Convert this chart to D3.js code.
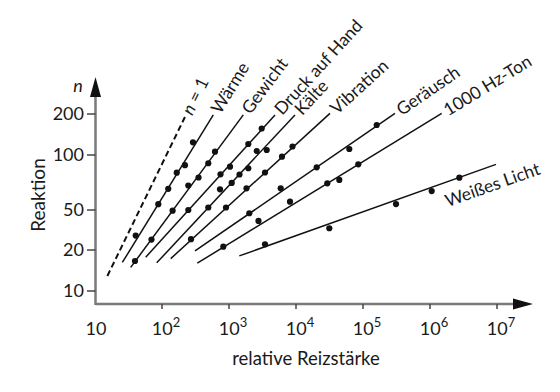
<!DOCTYPE html>
<html>
<head>
<meta charset="utf-8">
<script src="https://cdn.jsdelivr.net/npm/d3@7"></script>
<style>
  body { margin: 0; background: #fff; }
  text { font-family: Lato, "Open Sans", sans-serif; fill: #1a1a1a; }
</style>
</head>
<body>
<div id="container"></div>
<script>
// Stevens power law: Reaktion vs. relative Reizstaerke (log-log)
const series = ["n = 1", "Wärme", "Gewicht", "Druck auf Hand", "Kälte",
                "Vibration", "Geräusch", "1000 Hz-Ton", "Weißes Licht"];

// fitted line ends [stimulus, response]
const lineStart = [[15.3, 12.9], [25.6, 16.2], [34.1, 14.9], [57.1, 17.7], [83.4, 16.1],
                   [135, 17.3], [311, 19.7], [336, 16.0], [1425, 18.1]];
const lineEnd = [[220, 190], [583, 197], [1634, 197], [4860, 197], [9660, 197],
                 [32170, 202], [300300, 202], [1494000, 202], [9660000, 88.9]];

// measured points
const pointStim = [
  [],
  [40.5, 88.1, 124, 166, 220, 290],
  [39.5, 69.7, 144, 247, 351, 491, 618],
  [247, 747, 1035, 1942, 3076],
  [491, 734, 1097, 1435, 1942, 2591, 3654],
  [271, 902, 1824, 3446, 6180, 8867],
  [2009, 5909, 20370, 62450, 160200],
  [822, 2756, 8136, 29330, 44290, 85100],
  [3446, 31410, 310900, 1060000, 2740000]
];
const pointResp = [
  [],
  [27.8, 53.8, 65.3, 80.0, 88.0, 124],
  [16.6, 25.4, 49.2, 68.1, 75.3, 90.1, 105.7],
  [50, 78.4, 86.3, 120.4, 156.5],
  [51.6, 64.9, 70.3, 78.2, 84.6, 107, 108.8],
  [25.6, 51.6, 65.7, 80.2, 97.9, 115.5],
  [46.4, 65.7, 85.6, 110.7, 166],
  [21.6, 38.9, 55.5, 70.0, 73.0, 88.9],
  [22.8, 32.9, 53.9, 63.5, 75.1]
];

const xTicks = [10, 1e2, 1e3, 1e4, 1e5, 1e6, 1e7];
const yTicks = [10, 20, 50, 100, 200];

const width = 560, height = 392;
const x0 = 95.5, y0 = 304;

const x = d3.scaleLog().domain([10, 1e7]).range([95, 497]);
// the drawing's response axis is not evenly spaced, so piecewise log
const y = d3.scaleLog().domain(yTicks).range([291, 250, 210, 155, 114]);

const svg = d3.select("#container").append("svg")
  .attr("width", width).attr("height", height);

const axisCol = "#7a7a7a";

// axes lines + arrows
svg.append("line").attr("x1", x0).attr("x2", 516).attr("y1", y0).attr("y2", y0)
  .attr("stroke", axisCol).attr("stroke-width", 2.5);
svg.append("line").attr("x1", x0).attr("x2", x0).attr("y1", y0 + 1).attr("y2", 95)
  .attr("stroke", axisCol).attr("stroke-width", 2.5);
svg.append("path").attr("d", `M533,${y0} L513,${y0 - 5.5} L513,${y0 + 5.5} Z`).attr("fill", "#111");
svg.append("path").attr("d", `M${x0},77 L${x0 - 5.5},97 L${x0 + 5.5},97 Z`).attr("fill", "#111");

// y ticks
const yAxis = svg.append("g");
yTicks.forEach(v => {
  yAxis.append("line").attr("x1", 87).attr("x2", x0).attr("y1", y(v)).attr("y2", y(v))
    .attr("stroke", "#444").attr("stroke-width", 1.5);
  yAxis.append("text").attr("x", 84).attr("y", y(v)).attr("dy", "0.36em")
    .attr("text-anchor", "end").style("font-size", "18px").text(v);
});

// x ticks
const xAxis = svg.append("g");
xTicks.forEach((v, i) => {
  if (i > 0) {
    xAxis.append("line").attr("x1", x(v)).attr("x2", x(v)).attr("y1", y0).attr("y2", y0 + 5)
      .attr("stroke", "#444").attr("stroke-width", 1.5);
  }
  const t = xAxis.append("text").attr("x", x(v) + (i > 0 ? 4 : 1)).attr("y", 335)
    .attr("text-anchor", "middle").style("font-size", "18px");
  t.append("tspan").text("10");
  if (i > 0) {
    t.append("tspan").attr("dy", -8).style("font-size", "13px").text(String(i + 1));
  }
});

// axis titles
svg.append("text").attr("x", 306).attr("y", 365).attr("text-anchor", "middle")
  .style("font-size", "18.5px").text("relative Reizstärke");
svg.append("text").attr("transform", "translate(45,195) rotate(-90)")
  .attr("text-anchor", "middle").style("font-size", "19px").text("Reaktion");
svg.append("text").attr("x", 78).attr("y", 92).attr("text-anchor", "middle")
  .style("font-size", "18px").style("font-style", "italic").text("n");

// lines, points, labels
const plot = svg.append("g");
series.forEach((name, i) => {
  const p0 = [x(lineStart[i][0]), y(lineStart[i][1])];
  const p1 = [x(lineEnd[i][0]), y(lineEnd[i][1])];
  plot.append("path")
    .attr("d", d3.line()([p0, p1]))
    .attr("stroke", "#111")
    .attr("stroke-width", i === 0 ? 2 : 1.5)
    .attr("stroke-dasharray", i === 0 ? "6,3.5" : null)
    .attr("fill", "none");

  plot.selectAll(null)
    .data(pointStim[i].map((s, k) => [s, pointResp[i][k]]))
    .join("circle")
    .attr("cx", d => x(d[0])).attr("cy", d => y(d[1])).attr("r", 3.1)
    .attr("fill", "#111");

  const ang = Math.atan2(p1[1] - p0[1], p1[0] - p0[0]);
  let lx, ly;
  if (i === series.length - 1) {
    // Weisses Licht sits under the line
    const t = 0.78;
    const bx = p0[0] + (p1[0] - p0[0]) * t, by = p0[1] + (p1[1] - p0[1]) * t;
    lx = bx - Math.sin(ang) * 18; ly = by + Math.cos(ang) * 18;
  } else {
    lx = p1[0] + Math.cos(ang) * 4; ly = p1[1] + Math.sin(ang) * 4;
  }
  const lab = plot.append("text")
    .attr("transform", `translate(${lx},${ly}) rotate(${ang * 180 / Math.PI})`)
    .attr("dy", "0.35em").style("font-size", "17.5px");
  if (i === 0) {
    lab.append("tspan").style("font-style", "italic").text("n");
    lab.append("tspan").text(" = 1");
  } else {
    lab.text(name);
  }
});
</script>
</body>
</html>
